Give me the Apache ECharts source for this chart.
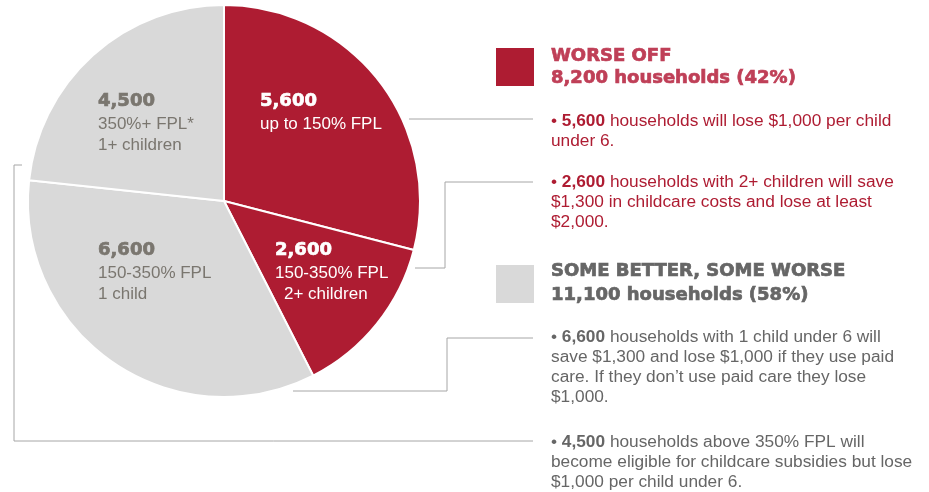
<!DOCTYPE html>
<html><head><meta charset="utf-8">
<script src="https://cdn.jsdelivr.net/npm/echarts@6/dist/echarts.min.js"></script>
<style>html,body{margin:0;padding:0;background:#fff}#c{width:929px;height:492px}</style>
</head><body><div id="c"></div>
<script>
// ---- data ----
var values = [5600, 2600, 6600, 4500];
var numberLabels = ['5,600', '2,600', '6,600', '4,500'];
var subLabels = [['up to 150% FPL'], ['150-350% FPL', '2+ children'], ['150-350% FPL', '1 child'], ['350%+ FPL*', '1+ children']];
var groups = ['worse', 'worse', 'some', 'some'];
var groupTitles = ['WORSE OFF', 'SOME BETTER, SOME WORSE'];
var groupTotals = ['8,200 households (42%)', '11,100 households (58%)'];
var bulletBold = ['5,600', '2,600', '6,600', '4,500'];
var bulletText = [
  ' households will lose $1,000 per child\nunder 6.',
  ' households with 2+ children will save\n$1,300 in childcare costs and lose at least\n$2,000.',
  ' households with 1 child under 6 will\nsave $1,300 and lose $1,000 if they use paid\ncare. If they don\u2019t use paid care they lose\n$1,000.',
  ' households above 350% FPL will\nbecome eligible for childcare subsidies but lose\n$1,000 per child under 6.'
];

// ---- style ----
var RED = '#ae1c32', GRAY = '#d9d9d9';
var cx = 224, cy = 201, R = 196;
var labelOffsets = [[36, -112], [51, 37], [-126, 37], [-126, -112]];
var FONT = '"Liberation Sans", Arial, sans-serif';
var BOLDFONT = '"DejaVu Sans", sans-serif';

var chart = echarts.init(document.getElementById('c'), null, {renderer: 'canvas'});

var data = values.map(function (v, i) {
  var isRed = groups[i] === 'worse';
  var txtCol = isRed ? '#ffffff' : '#7a766f';
  var lines = '{n|' + numberLabels[i] + '}';
  subLabels[i].forEach(function (s, j) {
    lines += '\n{' + (i === 1 && j === 1 ? 'si' : 's') + '|' + s + '}';
  });
  return {
    value: v,
    itemStyle: {color: isRed ? RED : GRAY},
    label: {
      formatter: lines,
      rich: {
        n: {fontFamily: BOLDFONT, fontWeight: 'bold', fontSize: 18, lineHeight: 25, color: txtCol, align: 'left',
            textBorderColor: txtCol, textBorderWidth: 0.7},
        s: {fontFamily: FONT, fontSize: 17, lineHeight: 21, color: txtCol, align: 'left'},
        si: {fontFamily: FONT, fontSize: 17, lineHeight: 21, color: txtCol, align: 'left', padding: [0, 0, 0, 9]}
      }
    }
  };
});

var graphics = [];
// connector lines
var connectors = [
  [[409, 119], [533, 119]],
  [[415, 268], [445, 268], [445, 182], [533, 182]],
  [[293, 391], [447, 391], [447, 338], [533, 338]],
  [[22, 165], [14, 165], [14, 441], [533, 441]]
];
connectors.forEach(function (pts) {
  graphics.push({type: 'polyline', shape: {points: pts}, style: {stroke: '#a6a6a6', lineWidth: 1, fill: null}, silent: true});
});
// legend squares + headers
var headerTops = [45, 259];
var squareTops = [48, 265];
var headerCols = ['#bf3f57', '#666666'];
var squareCols = [RED, GRAY];
[0, 1].forEach(function (g) {
  graphics.push({type: 'rect', shape: {x: 496, y: squareTops[g], width: 38, height: 38}, style: {fill: squareCols[g]}});
  graphics.push({type: 'text', x: 551, y: headerTops[g], style: {
    text: groupTitles[g] + '\n' + groupTotals[g],
    font: 'bold 18px ' + BOLDFONT, fill: headerCols[g], stroke: headerCols[g], lineWidth: 0.7,
    lineHeight: g === 0 ? 22 : 24, verticalAlign: 'top', align: 'left'
  }});
});
// bullets
var bulletTops = [111, 172, 327, 432];
var bulletCols = [RED, RED, '#666666', '#666666'];
bulletText.forEach(function (t, i) {
  graphics.push({type: 'text', x: 551, y: bulletTops[i], style: {
    text: '{r|\u2022 }{b|' + bulletBold[i] + '}{r|' + t.split('\n').join('}\n{r|') + '}',
    verticalAlign: 'top', align: 'left',
    rich: {
      r: {fontFamily: FONT, fontSize: 17.3, lineHeight: 20, fill: bulletCols[i]},
      b: {fontFamily: FONT, fontSize: 17.3, fontWeight: 'bold', lineHeight: 20, fill: bulletCols[i]}
    }
  }});
});

chart.setOption({
  backgroundColor: '#ffffff',
  animation: false,
  series: [{
    type: 'pie',
    center: [cx, cy],
    radius: R,
    startAngle: 90,
    clockwise: true,
    data: data,
    silent: true,
    itemStyle: {borderColor: '#ffffff', borderWidth: 2},
    label: {show: true, position: 'inside'},
    labelLine: {show: false},
    labelLayout: function (p) {
      var o = labelOffsets[p.dataIndex];
      return {x: cx + o[0], y: cy + o[1], align: 'left', verticalAlign: 'top'};
    }
  }],
  graphic: graphics
});
</script></body></html>
